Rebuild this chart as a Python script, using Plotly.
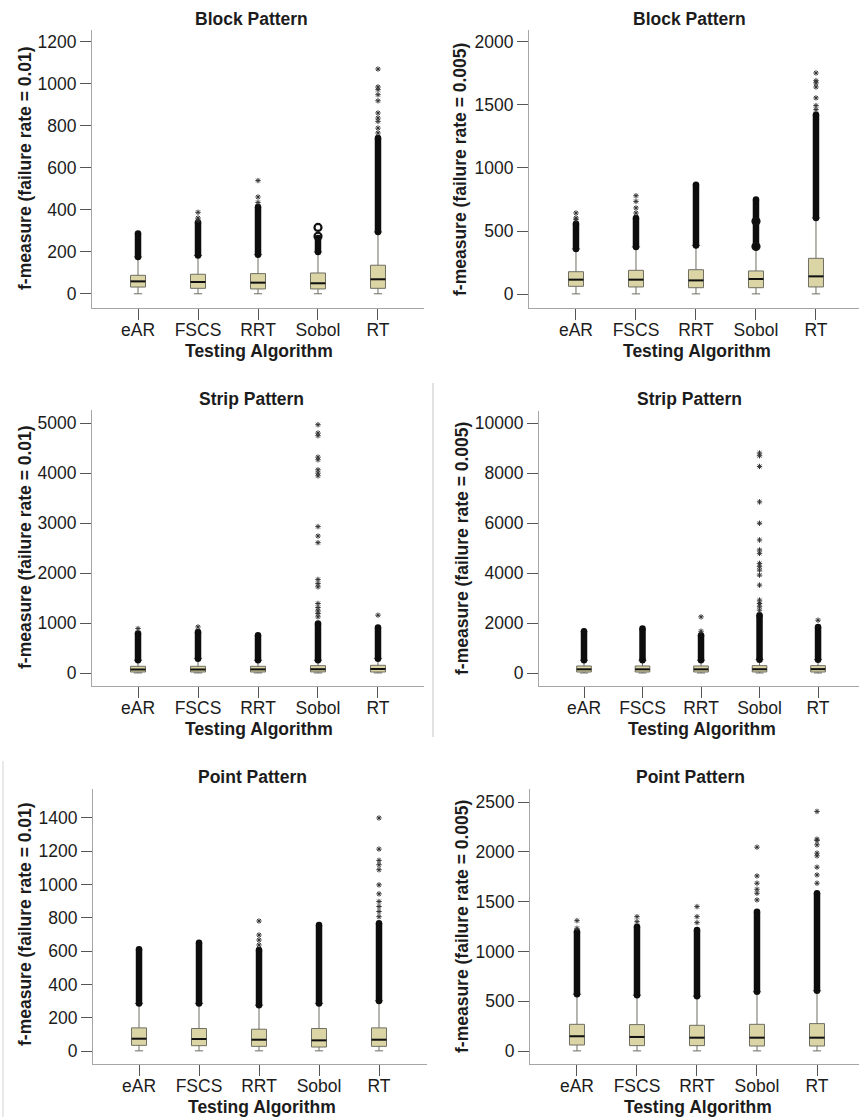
import plotly.graph_objects as go

W, H = 859, 1117

algorithms = ["eAR", "FSCS", "RRT", "Sobol", "RT"]

# ---- Block pattern, failure rate 0.01 ----
blk1_q1 = [33, 27, 24, 24, 27]
blk1_med = [60, 57, 54, 51, 70]
blk1_q3 = [89, 94, 97, 100, 137]
blk1_lo = [1, 1, 1, 1, 1]
blk1_hi = [176, 183, 187, 200, 295]
blk1_dense_top = [288, 341, 414, 267, 743]
blk1_sparse = [[], [351, 362, 389], [436, 462, 540], [], [767, 790, 822, 838, 862, 920, 949, 973, 986, 1071]]
blk1_circles = [[], [], [], [275, 317], []]

# ---- Block pattern, failure rate 0.005 ----
blk2_q1 = [61, 56, 50, 50, 56]
blk2_med = [114, 114, 108, 119, 140]
blk2_q3 = [177, 188, 193, 183, 283]
blk2_lo = [1, 1, 1, 1, 1]
blk2_hi = [357, 373, 384, 378, 603]
blk2_dense_top = [558, 603, 868, 749, 1423]
blk2_sparse = [[590, 603, 643], [643, 683, 735, 780], [], [], [1463, 1495, 1556, 1643, 1675, 1693, 1754]]
blk2_circles = [[], [], [], [378, 577], []]

# ---- Strip pattern, failure rate 0.01 ----
str1_q1 = [20, 20, 20, 22, 20]
str1_med = [70, 70, 72, 75, 80]
str1_q3 = [134, 134, 134, 147, 154]
str1_lo = [1, 1, 1, 1, 1]
str1_hi = [254, 287, 254, 254, 287]
str1_dense_top = [789, 822, 755, 989, 909]
str1_sparse = [[889], [922], [], [1123, 1190, 1243, 1310, 1390, 1724, 1791, 1871, 2607, 2740, 2928,
                                    3944, 3997, 4064, 4265, 4318, 4746, 4799, 4966], [1156]]

# ---- Strip pattern, failure rate 0.005 ----
str2_q1 = [40, 40, 40, 42, 40]
str2_med = [147, 147, 147, 150, 155]
str2_q3 = [281, 281, 281, 295, 295]
str2_lo = [1, 1, 1, 1, 1]
str2_hi = [508, 508, 508, 535, 535]
str2_dense_top = [1671, 1778, 1511, 2313, 1845]
str2_sparse = [[], [], [1671, 2246], [2514, 2650, 2780, 2915, 3516, 3917, 4118, 4252, 4385, 4787, 4920,
                                      5321, 5990, 6845, 8263, 8690, 8797], [2112]]

# ---- Point pattern, failure rate 0.01 ----
pnt1_q1 = [34, 32, 28, 24, 28]
pnt1_med = [74, 72, 68, 64, 68]
pnt1_q3 = [139, 135, 131, 135, 139]
pnt1_lo = [1, 1, 1, 1, 1]
pnt1_hi = [285, 285, 275, 285, 301]
pnt1_dense_top = [611, 651, 607, 757, 767]
pnt1_sparse = [[], [], [637, 667, 697, 781], [], [807, 838, 868, 898, 944, 998, 1089, 1119, 1145, 1213, 1400]]

# ---- Point pattern, failure rate 0.005 ----
pnt2_q1 = [60, 54, 54, 50, 50]
pnt2_med = [148, 141, 134, 134, 134]
pnt2_q3 = [268, 265, 258, 268, 275]
pnt2_lo = [1, 1, 1, 1, 1]
pnt2_hi = [570, 560, 550, 594, 604]
pnt2_dense_top = [1198, 1248, 1215, 1399, 1584]
pnt2_sparse = [[1232, 1309], [1299, 1349], [1289, 1349, 1450], [1517, 1584, 1624, 1685, 1758, 2047],
               [1685, 1768, 1846, 1960, 1987, 2070, 2114, 2127, 2406]]

titles = ["Block Pattern", "Block Pattern", "Strip Pattern", "Strip Pattern", "Point Pattern", "Point Pattern"]
y_titles = ["f-measure (failure rate = 0.01)", "f-measure (failure rate = 0.005)"] * 3
y_ticks = [
    [0, 200, 400, 600, 800, 1000, 1200],
    [0, 500, 1000, 1500, 2000],
    [0, 1000, 2000, 3000, 4000, 5000],
    [0, 2000, 4000, 6000, 8000, 10000],
    [0, 200, 400, 600, 800, 1000, 1200, 1400],
    [0, 500, 1000, 1500, 2000, 2500],
]

panels = [
    (blk1_q1, blk1_med, blk1_q3, blk1_lo, blk1_hi, blk1_dense_top, blk1_sparse, blk1_circles),
    (blk2_q1, blk2_med, blk2_q3, blk2_lo, blk2_hi, blk2_dense_top, blk2_sparse, blk2_circles),
    (str1_q1, str1_med, str1_q3, str1_lo, str1_hi, str1_dense_top, str1_sparse, None),
    (str2_q1, str2_med, str2_q3, str2_lo, str2_hi, str2_dense_top, str2_sparse, None),
    (pnt1_q1, pnt1_med, pnt1_q3, pnt1_lo, pnt1_hi, pnt1_dense_top, pnt1_sparse, None),
    (pnt2_q1, pnt2_med, pnt2_q3, pnt2_lo, pnt2_hi, pnt2_dense_top, pnt2_sparse, None),
]

# Plot-area geometry in page pixels: (left, right, top, bottom), axis ranges
frames = [
    dict(px=(92, 424, 30, 308), xr=(-0.767, 4.767), yr=(-66.7, 1257)),
    dict(px=(529, 859, 30, 308), xr=(-0.783, 4.717), yr=(-111, 2095)),
    dict(px=(92, 424, 410, 686), xr=(-0.767, 4.767), yr=(-260, 5260)),
    dict(px=(539, 859, 411, 686), xr=(-0.769, 4.70), yr=(-520, 10480)),
    dict(px=(93, 427, 789, 1064), xr=(-0.767, 4.8), yr=(-78, 1574)),
    dict(px=(530, 859, 789, 1064), xr=(-0.783, 4.70), yr=(-130.5, 2631)),
]

# Label anchor points in page pixels
title_pos = [(252, 19), (689, 19), (252, 399), (689, 399), (253, 777), (690, 777)]
xtitle_pos = [(259, 351), (697, 351), (259, 729), (702, 729), (262, 1107), (698, 1107)]
ytitle_pos = [(25, 168), (460, 170), (25, 547), (462, 549), (25, 924), (462, 927)]

FONT = "Liberation Sans, Arial, Helvetica, sans-serif"
TXT = "#1c1c1c"
BOX_FILL = "#dbd5a6"
BOX_LINE = "#6e6e62"
AXIS_LINE = "#a6a6a6"
BOX_W = 0.25

fig = go.Figure()
layout_axes = {}
annotations = []


def px2x(p):
    return p / W


def px2y(p):
    return 1 - p / H


for k, (q1, med, q3, lo, hi, dense_top, sparse, circles) in enumerate(panels):
    n = k + 1
    xa = "x" if n == 1 else f"x{n}"
    ya = "y" if n == 1 else f"y{n}"
    xs = list(range(len(algorithms)))

    fig.add_trace(go.Box(
        x=xs, q1=q1, median=med, q3=q3, lowerfence=lo, upperfence=hi,
        width=BOX_W, whiskerwidth=0.55, boxpoints=False,
        fillcolor=BOX_FILL, line=dict(color=BOX_LINE, width=1),
        xaxis=xa, yaxis=ya, showlegend=False, hoverinfo="skip",
    ))

    # median bars, drawn heavier than the box outline
    mx, my = [], []
    for i, m in enumerate(med):
        mx += [i - BOX_W / 2, i + BOX_W / 2, None]
        my += [m, m, None]
    fig.add_trace(go.Scatter(x=mx, y=my, mode="lines", line=dict(color="#111111", width=2),
                             xaxis=xa, yaxis=ya, showlegend=False, hoverinfo="skip"))

    # dense runs of overlapping outliers just above each upper whisker
    dx, dy = [], []
    for i in xs:
        dx += [i, i, None]
        dy += [hi[i], dense_top[i], None]
    fig.add_trace(go.Scatter(x=dx, y=dy, mode="lines+markers",
                             line=dict(color="#0d0d0d", width=6.5),
                             marker=dict(color="#0d0d0d", size=6.5, symbol="circle"),
                             xaxis=xa, yaxis=ya, showlegend=False, hoverinfo="skip"))

    # isolated extreme values
    sx, sy = [], []
    for i, vals in enumerate(sparse):
        sx += [i] * len(vals)
        sy += vals
    fig.add_trace(go.Scatter(x=sx, y=sy, mode="markers",
                             marker=dict(symbol="asterisk", size=4.5, color="#333333",
                                         line=dict(color="#333333", width=1)),
                             xaxis=xa, yaxis=ya, showlegend=False, hoverinfo="skip"))

    if circles:
        cx, cy = [], []
        for i, vals in enumerate(circles):
            cx += [i] * len(vals)
            cy += vals
        fig.add_trace(go.Scatter(x=cx, y=cy, mode="markers",
                                 marker=dict(symbol="circle-open", size=7, color="#111111",
                                             line=dict(color="#111111", width=2.2)),
                                 xaxis=xa, yaxis=ya, showlegend=False, hoverinfo="skip"))

    f = frames[k]
    l, r, t, b = f["px"]
    xkey = "xaxis" if n == 1 else f"xaxis{n}"
    ykey = "yaxis" if n == 1 else f"yaxis{n}"
    layout_axes[xkey] = dict(
        domain=[px2x(l), min(px2x(r), 1.0)], range=list(f["xr"]), anchor=ya,
        tickmode="array", tickvals=xs, ticktext=algorithms,
        ticks="outside", ticklen=11, tickwidth=1, tickcolor="#555555",
        ticklabelstandoff=-5,
        showline=True, linecolor=AXIS_LINE, linewidth=1,
        showgrid=False, zeroline=False, fixedrange=True,
        tickfont=dict(family=FONT, size=17.5, color=TXT),
    )
    layout_axes[ykey] = dict(
        domain=[px2y(b), px2y(t)], range=list(f["yr"]), anchor=xa,
        tickmode="array", tickvals=y_ticks[k], ticktext=[str(v) for v in y_ticks[k]],
        ticks="outside", ticklen=11, tickwidth=1, tickcolor="#555555",
        showline=True, linecolor=AXIS_LINE, linewidth=1,
        showgrid=False, zeroline=False, fixedrange=True,
        tickfont=dict(family=FONT, size=17.5, color=TXT),
    )

    tx, ty = title_pos[k]
    annotations.append(dict(text=f"<b>{titles[k]}</b>", x=px2x(tx), y=px2y(ty), xref="paper", yref="paper",
                            xanchor="center", yanchor="middle", showarrow=False,
                            font=dict(family=FONT, size=17.5, color=TXT)))
    tx, ty = xtitle_pos[k]
    annotations.append(dict(text="<b>Testing Algorithm</b>", x=px2x(tx), y=px2y(ty), xref="paper", yref="paper",
                            xanchor="center", yanchor="middle", showarrow=False,
                            font=dict(family=FONT, size=17.5, color=TXT)))
    tx, ty = ytitle_pos[k]
    annotations.append(dict(text=f"<b>{y_titles[k]}</b>", x=px2x(tx), y=px2y(ty), xref="paper", yref="paper",
                            xanchor="center", yanchor="middle", showarrow=False, textangle=-90,
                            font=dict(family=FONT, size=17.5, color=TXT)))

# thin panel borders left over from the assembled figure
shapes = [
    dict(type="line", xref="paper", yref="paper", x0=px2x(433), x1=px2x(433), y0=px2y(383), y1=px2y(737),
         line=dict(color="#c4c4c4", width=1)),
    dict(type="line", xref="paper", yref="paper", x0=px2x(3), x1=px2x(3), y0=px2y(761), y1=px2y(1117),
         line=dict(color="#d4d4d4", width=1)),
]

fig.update_layout(
    width=W, height=H,
    margin=dict(l=0, r=0, t=0, b=0),
    paper_bgcolor="white", plot_bgcolor="white",
    showlegend=False,
    annotations=annotations,
    shapes=shapes,
    **layout_axes,
)

fig.write_html("out.html")
